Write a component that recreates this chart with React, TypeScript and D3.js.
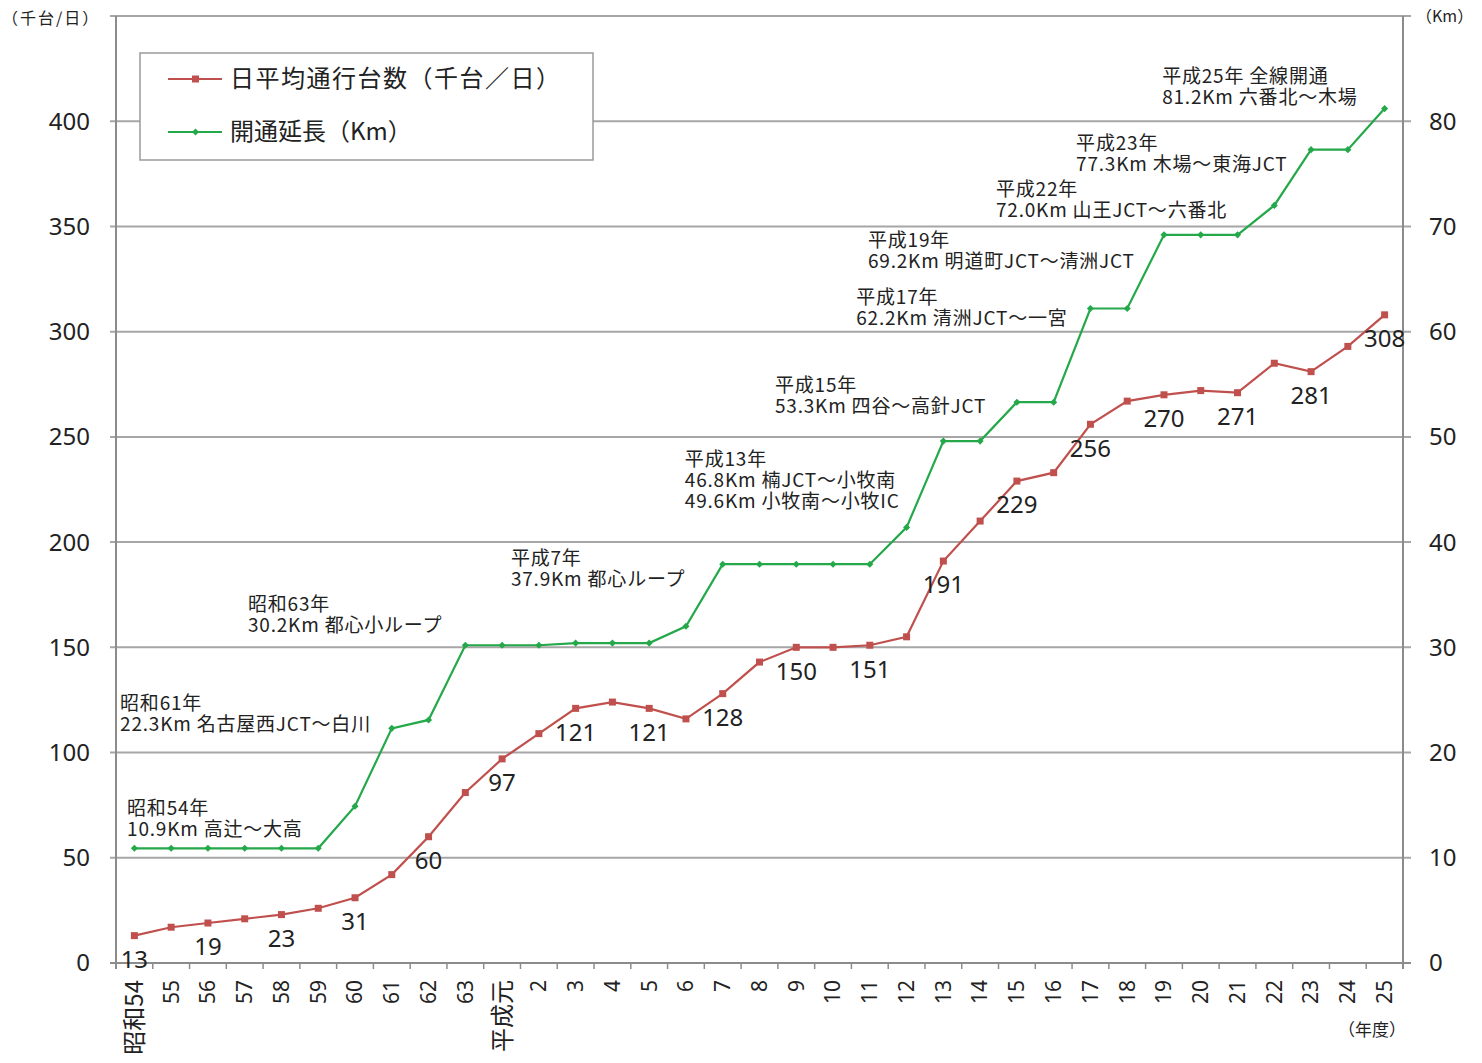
import * as d3 from "d3";

// 年度 (昭和54 〜 平成25)
const years = [
  "昭和54", "55", "56", "57", "58", "59", "60", "61", "62", "63",
  "平成元", "2", "3", "4", "5", "6", "7", "8", "9", "10",
  "11", "12", "13", "14", "15", "16", "17", "18", "19", "20",
  "21", "22", "23", "24", "25",
];

// 日平均通行台数 (千台/日)
const traffic = [
  13, 17, 19, 21, 23, 26, 31, 42, 60, 81,
  97, 109, 121, 124, 121, 116, 128, 143, 150, 150,
  151, 155, 191, 210, 229, 233, 256, 267, 270, 272,
  271, 285, 281, 293, 308,
];

// 開通延長 (Km)
const length = [
  10.9, 10.9, 10.9, 10.9, 10.9, 10.9, 14.9, 22.3, 23.1, 30.2,
  30.2, 30.2, 30.4, 30.4, 30.4, 32.0, 37.9, 37.9, 37.9, 37.9,
  37.9, 41.4, 49.6, 49.6, 53.3, 53.3, 62.2, 62.2, 69.2, 69.2,
  69.2, 72.0, 77.3, 77.3, 81.2,
];

const leftTicks = [0, 50, 100, 150, 200, 250, 300, 350, 400];
const rightTicks = [0, 10, 20, 30, 40, 50, 60, 70, 80];

// 開通区間の注記 (anchor: 年度 index, Km)
const notes = [
  { at: -0.2, km: 14.7, lines: ["昭和54年", "10.9Km 高辻～大高"] },
  { at: -0.39, km: 24.7, lines: ["昭和61年", "22.3Km 名古屋西JCT～白川"] },
  { at: 3.09, km: 34.1, lines: ["昭和63年", "30.2Km 都心小ループ"] },
  { at: 10.24, km: 38.5, lines: ["平成7年", "37.9Km 都心ループ"] },
  { at: 14.97, km: 47.9, lines: ["平成13年", "46.8Km 楠JCT～小牧南", "49.6Km 小牧南～小牧IC"] },
  { at: 17.42, km: 54.9, lines: ["平成15年", "53.3Km 四谷～高針JCT"] },
  { at: 19.63, km: 63.3, lines: ["平成17年", "62.2Km 清洲JCT～一宮"] },
  { at: 19.95, km: 68.7, lines: ["平成19年", "69.2Km 明道町JCT～清洲JCT"] },
  { at: 23.43, km: 73.5, lines: ["平成22年", "72.0Km 山王JCT～六番北"] },
  { at: 25.61, km: 77.9, lines: ["平成23年", "77.3Km 木場～東海JCT"] },
  { at: 27.95, km: 84.3, lines: ["平成25年 全線開通", "81.2Km 六番北～木場"] },
];

const W = 1482;
const H = 1063;
const left = 116;
const right = 1403;
const top = 16;
const bottom = 963;

const RED = "#c0504d";
const GREEN = "#24a84a";
const GRID = "#a6a6a6";
const AXIS = "#8c8c8c";
const NUM_FONT = "'Noto Sans', 'Open Sans', sans-serif";
const JP_FONT = "'Noto Sans CJK JP', sans-serif";

export default function App() {
  const x = d3.scaleLinear().domain([-0.5, years.length - 0.5]).range([left, right]);
  const yL = d3.scaleLinear().domain([0, 450]).range([bottom, top]);
  const yR = d3.scaleLinear().domain([0, 90]).range([bottom, top]);

  const redLine = d3.line<number>().x((_, i) => x(i)).y((d) => yL(d));
  const greenLine = d3.line<number>().x((_, i) => x(i)).y((d) => yR(d));

  const boundaries = d3.range(years.length + 1).map((i) => i - 0.5);

  return (
    <svg
      width={W}
      height={H}
      style={{ position: "absolute", left: 0, top: 0, background: "#fff" }}
    >
      {/* grid */}
      {[...leftTicks, 450].map((t) => (
        <line key={"g" + t} x1={left - 6} x2={right + 8} y1={yL(t)} y2={yL(t)}
          stroke={t === 0 ? AXIS : GRID} strokeWidth={2} />
      ))}
      <line x1={left} x2={left} y1={top} y2={bottom + 6} stroke={AXIS} strokeWidth={2} />
      <line x1={right} x2={right} y1={top} y2={bottom + 6} stroke={AXIS} strokeWidth={2} />
      {boundaries.map((b) => (
        <line key={"t" + b} x1={x(b)} x2={x(b)} y1={bottom} y2={bottom + 6} stroke={AXIS} strokeWidth={1.5} />
      ))}

      {/* y labels */}
      {leftTicks.map((t) => (
        <text key={"l" + t} x={90} y={yL(t)} dy="0.35em" textAnchor="end"
          fontFamily={NUM_FONT} fontSize={24} fill="#222">{t}</text>
      ))}
      {rightTicks.map((t) => (
        <text key={"r" + t} x={1429} y={yR(t)} dy="0.35em" textAnchor="start"
          fontFamily={NUM_FONT} fontSize={24} fill="#222">{t}</text>
      ))}
      <text x={2} y={18} dy="0.35em" fontFamily={JP_FONT} fontSize={16} letterSpacing={2} fill="#222">（千台/日）</text>
      <text x={1416} y={16} dy="0.35em" fontFamily={JP_FONT} fontSize={16} fill="#222">（Km）</text>
      <text x={1338} y={1030} dy="0.35em" fontFamily={JP_FONT} fontSize={17} fill="#222">（年度）</text>

      {/* x labels */}
      {years.map((yr, i) => (
        <text key={"x" + i} transform={`translate(${x(i)},${bottom + 17}) rotate(-90)`}
          dy="0.35em" textAnchor="end" fontFamily={yr.length > 2 ? JP_FONT : NUM_FONT}
          fontSize={yr.length > 2 ? 24 : 21} fill="#222">{yr}</text>
      ))}

      {/* series */}
      <path d={greenLine(length) ?? ""} fill="none" stroke={GREEN} strokeWidth={2.2} />
      {length.map((d, i) => (
        <rect key={"gm" + i} x={x(i) - 2.5} y={yR(d) - 2.5} width={5} height={5} fill={GREEN}
          transform={`rotate(45,${x(i)},${yR(d)})`} />
      ))}
      <path d={redLine(traffic) ?? ""} fill="none" stroke={RED} strokeWidth={2.2} />
      {traffic.map((d, i) => (
        <rect key={"rm" + i} x={x(i) - 3.5} y={yL(d) - 3.5} width={7} height={7} fill={RED} />
      ))}
      {traffic.map((d, i) =>
        i % 2 === 0 ? (
          <text key={"v" + i} x={x(i)} y={yL(d) + 24} dy="0.35em" textAnchor="middle"
            fontFamily={NUM_FONT} fontSize={24} fill="#222">{d}</text>
        ) : null
      )}

      {/* notes */}
      {notes.map((n, k) => (
        <text key={"n" + k} x={x(n.at)} y={yR(n.km)} fontFamily={JP_FONT} fontSize={19}
          letterSpacing={0.8} fill="#222">
          {n.lines.map((ln, j) => (
            <tspan key={j} x={x(n.at)} dy={j === 0 ? "0.35em" : 21}>{ln}</tspan>
          ))}
        </text>
      ))}

      {/* legend */}
      <rect x={140} y={53} width={453} height={107} fill="#fff" stroke="#9a9a9a" strokeWidth={1.5} />
      <line x1={168} x2={222} y1={79} y2={79} stroke={RED} strokeWidth={2.2} />
      <rect x={192} y={75.5} width={7} height={7} fill={RED} />
      <text x={230} y={79} dy="0.35em" fontFamily={JP_FONT} fontSize={24} letterSpacing={1.5} fill="#222">日平均通行台数（千台／日）</text>
      <line x1={168} x2={222} y1={132} y2={132} stroke={GREEN} strokeWidth={2.2} />
      <rect x={193} y={129.5} width={5} height={5} fill={GREEN} transform="rotate(45,195.5,132)" />
      <text x={230} y={132} dy="0.35em" fontFamily={JP_FONT} fontSize={24} fill="#222">開通延長（Km）</text>
    </svg>
  );
}
